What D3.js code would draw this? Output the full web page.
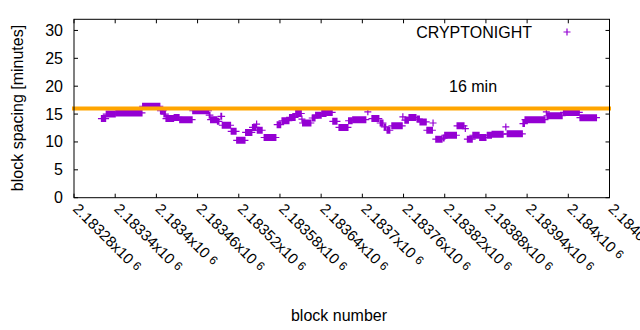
<!DOCTYPE html>
<html><head><meta charset="utf-8">
<script src="https://cdn.jsdelivr.net/npm/d3@7"></script>
<style>body{margin:0;background:#fff}svg{display:block}text{font-family:"Liberation Sans",Arial,sans-serif;fill:#000}</style>
</head><body><svg id="c" width="640" height="330"></svg>
<script>
// run data: each run = consecutive blocks sharing the same block spacing value
const runStart = [2183320,2183327,2183341,2183380,2183406,2183411,2183414,2183426,2183434,2183453,2183477,2183479,2183489,2183494,2183496,2183509,2183517,2183530,2183540,2183546,2183547,2183557,2183576,2183583,2183594,2183603,2183612,2183613,2183627,2183632,2183641,2183648,2183657,2183666,2183680,2183686,2183708,2183714,2183726,2183732,2183736,2183743,2183759,2183762,2183768,2183780,2183784,2183794,2183803,2183807,2183818,2183820,2183838,2183850,2183853,2183861,2183871,2183882,2183889,2183909,2183911,2183934,2183937,2183968,2183969,2183993,2184017];
const runEnd   = [2183326,2183340,2183379,2183405,2183410,2183413,2183425,2183433,2183452,2183476,2183478,2183488,2183491,2183495,2183508,2183516,2183529,2183539,2183545,2183546,2183554,2183574,2183581,2183593,2183602,2183611,2183612,2183625,2183631,2183640,2183647,2183656,2183663,2183679,2183685,2183705,2183708,2183724,2183730,2183734,2183740,2183758,2183759,2183767,2183778,2183783,2183793,2183802,2183803,2183816,2183819,2183837,2183848,2183850,2183860,2183870,2183880,2183888,2183905,2183909,2183933,2183936,2183966,2183968,2183991,2184016,2184041];
const runValue = [14.2,15.0,15.2,16.4,15.6,15.0,14.2,14.4,14.0,15.6,14.8,14.0,13.7,14.6,13.0,11.9,10.3,11.7,12.6,13.2,12.1,10.8,13.1,13.8,14.4,15.1,14.1,13.4,14.3,14.8,15.1,15.3,13.7,12.6,13.8,14.0,15.4,14.2,13.4,12.7,12.1,12.9,14.5,13.9,14.4,14.1,13.6,12.1,13.4,10.5,10.7,11.2,12.9,12.4,10.5,11.2,10.8,11.2,11.4,12.7,11.45,13.3,14.0,15.4,14.7,15.3,14.35];
const xTicks = [2183280,2183340,2183400,2183460,2183520,2183580,2183640,2183700,2183760,2183820,2183880,2183940,2184000,2184060];
const xTickLabels = ["2.18328","2.18334","2.1834","2.18346","2.18352","2.18358","2.18364","2.1837","2.18376","2.18382","2.18388","2.18394","2.184","2.18406"];
const yTicks = [0,5,10,15,20,25,30];
const targetMinutes = 16;
const seriesName = "CRYPTONIGHT";

const L=74, R=609.5, T=19.3, B=197.7;
const x = d3.scaleLinear().domain([2183280,2184060]).range([L,R]);
const y = d3.scaleLinear().domain([0,32]).range([B,T]);
const svg = d3.select("#c");
const purple="#9400d3", orange="#ffa500";

// points (runs of plus markers)
const a=3.5, w=0.6, t=0.6;
svg.append("g").selectAll("path").data(runValue).join("path")
  .attr("fill",purple)
  .attr("d",(v,i)=>{
    const x0=x(runStart[i]), x1=x(runEnd[i]), yy=y(v);
    return `M${x0-w},${yy-a}H${x1+w}V${yy-t}H${x1+a}V${yy+t}H${x1+w}V${yy+a}H${x0-w}V${yy+t}H${x0-a}V${yy-t}H${x0-w}Z`;
  });

// target line (drawn over the points)
svg.append("line").attr("x1",L-2).attr("x2",R+1.5).attr("y1",y(targetMinutes)).attr("y2",y(targetMinutes))
  .attr("stroke",orange).attr("stroke-width",4);

// frame
svg.append("rect").attr("x",L).attr("y",T).attr("width",R-L).attr("height",B-T)
  .attr("fill","none").attr("stroke","#000").attr("stroke-width",1);

// axes ticks
const tl=4;
const g=svg.append("g").attr("stroke","#000").attr("stroke-width",1);
yTicks.forEach(v=>{
  g.append("line").attr("x1",L).attr("x2",L+tl).attr("y1",y(v)).attr("y2",y(v));
  g.append("line").attr("x1",R).attr("x2",R-tl).attr("y1",y(v)).attr("y2",y(v));
});
xTicks.forEach(v=>{
  g.append("line").attr("x1",x(v)).attr("x2",x(v)).attr("y1",B).attr("y2",B-tl);
  g.append("line").attr("x1",x(v)).attr("x2",x(v)).attr("y1",T).attr("y2",T+tl);
});
svg.append("g").selectAll("text").data(yTicks).join("text")
  .attr("x",L-11).attr("y",v=>y(v)+5.5).attr("text-anchor","end").attr("font-size",16).text(d=>d);

const xl = svg.append("g").selectAll("text").data(xTicks).join("text")
  .attr("transform",v=>`translate(${x(v)-2},${B+12}) rotate(45)`)
  .attr("font-size",15);
xl.append("tspan").text((v,i)=>xTickLabels[i]+"x10");
xl.append("tspan").attr("dx",4).attr("dy",-2).attr("font-size",12).text("6");

svg.append("text").attr("x",339).attr("y",321).attr("text-anchor","middle").attr("font-size",16).text("block number");
svg.append("text").attr("transform","translate(23,108) rotate(-90)").attr("text-anchor","middle").attr("font-size",16).text("block spacing [minutes]");
svg.append("text").attr("x",449).attr("y",92).attr("font-size",16).text(targetMinutes+" min");

// legend
svg.append("text").attr("x",532).attr("y",38).attr("text-anchor","end").attr("font-size",16).text(seriesName);
svg.append("path").attr("d","M563.5,32H570.5M567,28.5V35.5").attr("stroke",purple).attr("stroke-width",1.2);
</script></body></html>
